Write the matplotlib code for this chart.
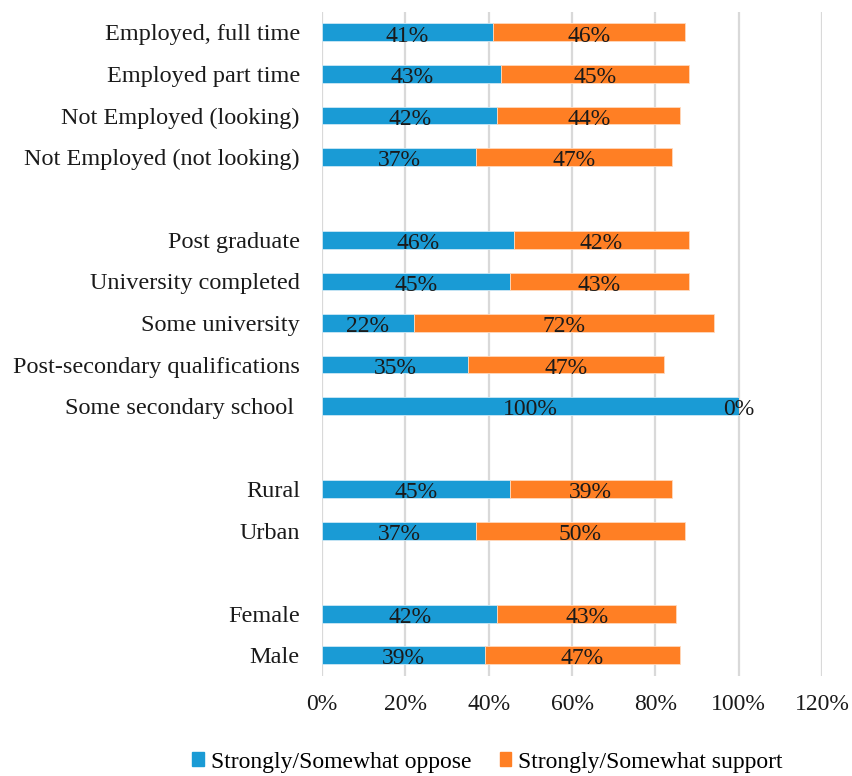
import numpy as np
import matplotlib.pyplot as plt
from matplotlib.ticker import FuncFormatter

plt.rcParams['font.family'] = ['Liberation Serif', 'DejaVu Serif']

categories = ["Employed, full time", "Employed part time", "Not Employed (looking)",
              "Not Employed (not looking)", "",
              "Post graduate", "University completed", "Some university",
              "Post-secondary qualifications", "Some secondary school ", "",
              "Rural", "Urban", "",
              "Female", "Male"]
oppose = [41, 43, 42, 37, None, 46, 45, 22, 35, 100, None, 45, 37, None, 42, 39]
support = [46, 45, 44, 47, None, 42, 43, 72, 47, 0, None, 39, 50, None, 43, 47]

blue = "#1a9bd5"
orange = "#ff7f24"
fs = 17

fig = plt.figure(figsize=(8.52, 7.76), dpi=100)
ax = fig.add_axes([0.378, 0.129, 0.587, 0.856])

ypos = np.arange(len(categories))
for y, o, s in zip(ypos, oppose, support):
    if o is None:
        continue
    ax.barh(y, o, height=0.43, color=blue, edgecolor="#cde8f5", linewidth=0.6, zorder=3)
    ax.barh(y, s, left=o, height=0.43, color=orange, edgecolor="#ffd9bd", linewidth=0.6, zorder=3)
    ax.text(o / 2, y + 0.09, f"{o}%", ha="center", va="center", fontsize=fs, color="#1a1a1a", zorder=4)
    ax.text(o + s / 2, y + 0.09, f"{s}%", ha="center", va="center", fontsize=fs, color="#1a1a1a", zorder=4)

ax.set_xlim(0, 120)
ax.set_ylim(15.5, -0.5)
ax.set_xticks(np.arange(0, 121, 20))
ax.xaxis.set_major_formatter(FuncFormatter(lambda v, p: f"{int(v)}%"))
ax.set_yticks(ypos)
ax.set_yticklabels(categories)
ax.tick_params(axis="both", length=0, labelsize=fs, colors="#1a1a1a")
ax.tick_params(axis="y", labelsize=17.5, pad=16)
ax.tick_params(axis="x", pad=13)
ax.grid(axis="x", color="#d9d9d9", linewidth=1.6, zorder=0)
for sp in ax.spines.values():
    sp.set_visible(False)

handles = [plt.Rectangle((0, 0), 1, 1, color=blue), plt.Rectangle((0, 0), 1, 1, color=orange)]
fig.legend(handles, ["Strongly/Somewhat oppose", "Strongly/Somewhat support"],
           loc="center", bbox_to_anchor=(0.572, 0.018), ncol=2, frameon=False,
           fontsize=fs, handlelength=0.5, handleheight=0.5, handletextpad=0.3,
           columnspacing=1.2)

fig.savefig("out.png", dpi=100)
